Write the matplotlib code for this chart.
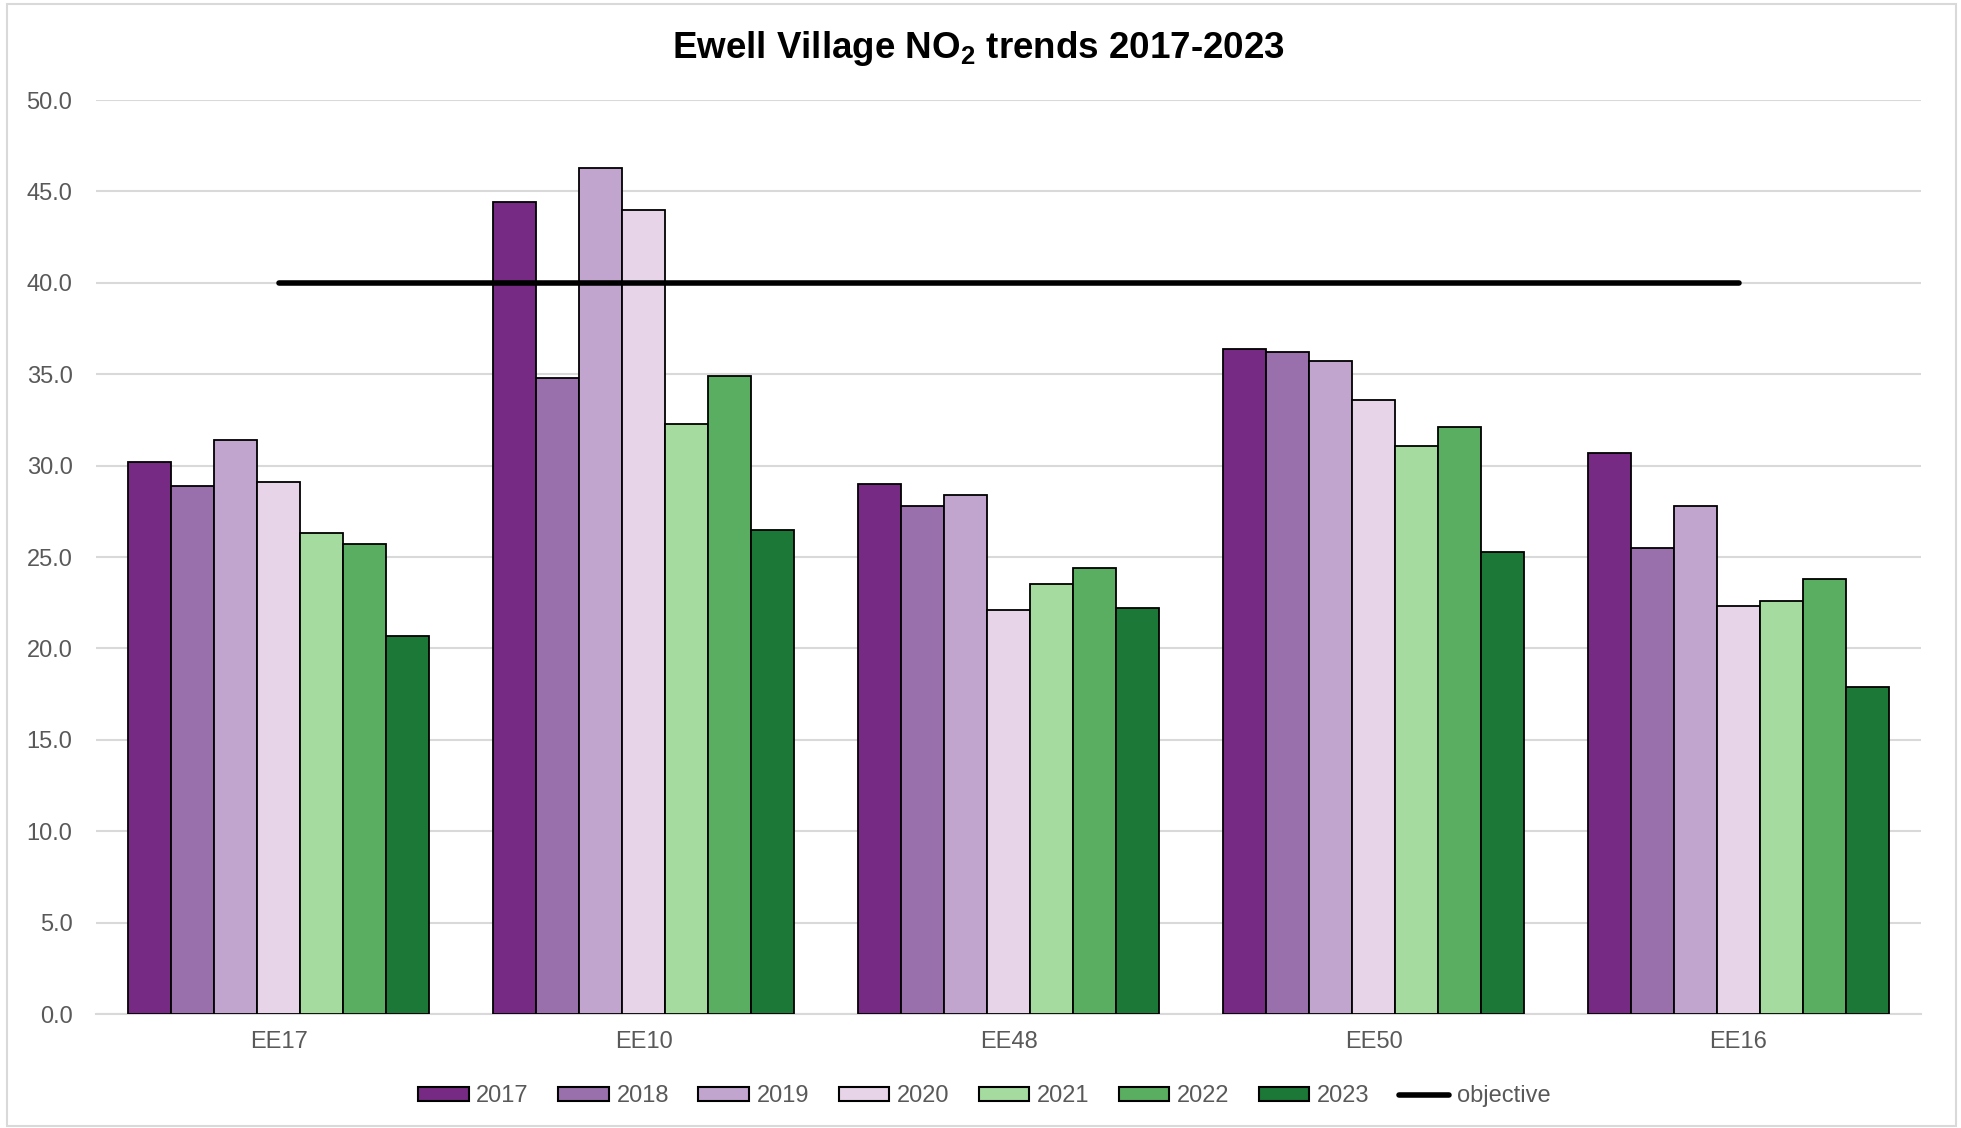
import matplotlib
matplotlib.use("Agg")
import matplotlib.pyplot as plt
import numpy as np
from matplotlib.patches import Patch, Rectangle
from matplotlib.lines import Line2D

plt.rcParams['font.family'] = ['Liberation Sans', 'DejaVu Sans']
plt.rcParams['mathtext.fontset'] = 'custom'
plt.rcParams['mathtext.rm'] = 'Liberation Sans'
plt.rcParams['mathtext.bf'] = 'Liberation Sans:bold'

sites = ["EE17", "EE10", "EE48", "EE50", "EE16"]
years = ["2017", "2018", "2019", "2020", "2021", "2022", "2023"]
v2017 = [30.2, 44.4, 29.0, 36.4, 30.7]
v2018 = [28.9, 34.8, 27.8, 36.2, 25.5]
v2019 = [31.4, 46.3, 28.4, 35.7, 27.8]
v2020 = [29.1, 44.0, 22.1, 33.6, 22.3]
v2021 = [26.3, 32.3, 23.5, 31.1, 22.6]
v2022 = [25.7, 34.9, 24.4, 32.1, 23.8]
v2023 = [20.7, 26.5, 22.2, 25.3, 17.9]
objective = [40, 40, 40, 40, 40]
yticks = [0, 5, 10, 15, 20, 25, 30, 35, 40, 45, 50]

series = [v2017, v2018, v2019, v2020, v2021, v2022, v2023]
colors = ["#762A83", "#9970AB", "#C2A5CF", "#E7D4E8", "#A6DBA0", "#5AAE61", "#1B7837"]

fig = plt.figure(figsize=(19.61, 11.28), dpi=100)
ax = fig.add_axes([0.049, 0.101, 0.9306, 0.8103])

x = np.arange(len(sites))
w = 1 / 8.5
for i, (vals, c) in enumerate(zip(series, colors)):
    ax.bar(x + (i - 3) * w, vals, width=w, color=c, edgecolor='black', linewidth=1.3, zorder=3)

ax.plot(x, objective, color='black', linewidth=4, solid_capstyle='round', zorder=4)

ax.set_xlim(-0.5, len(sites) - 0.5)
ax.set_ylim(0, 50)
ax.set_yticks(yticks)
ax.set_yticklabels([f"{t:.1f}" for t in yticks])
ax.set_xticks(x)
ax.set_xticklabels(sites)
ax.tick_params(axis='both', length=0, labelsize=17, labelcolor='#595959')
ax.tick_params(axis='y', pad=17)
ax.tick_params(axis='x', pad=12)
ax.grid(axis='y', color='#d9d9d9', linewidth=1.5, zorder=0)
for s in ['top', 'right', 'left']:
    ax.spines[s].set_visible(False)
ax.spines['bottom'].set_color('#d9d9d9')
ax.spines['bottom'].set_linewidth(1.5)

fig.text(0.499, 0.957, r"Ewell Village NO$_\mathbf{2}$ trends 2017-2023", ha='center', va='center',
         fontsize=26.5, fontweight='bold', color='black')

handles = [Patch(facecolor=c, edgecolor='black', linewidth=1.5) for c in colors]
handles.append(Line2D([0], [0], color='black', linewidth=4, solid_capstyle='round'))
labels = years + ["objective"]
leg = fig.legend(handles, labels, loc='center', bbox_to_anchor=(0.502, 0.028), ncol=8, frameon=False,
                 fontsize=17, handlelength=2.14, handleheight=0.5, handletextpad=0.32, columnspacing=1.25)
for t in leg.get_texts():
    t.set_color('#595959')

fig.patches.append(Rectangle((0.0036, 0.002), 0.9937, 0.9945, transform=fig.transFigure,
                             fill=False, edgecolor='#d9d9d9', linewidth=1.5))

fig.savefig("out.png", dpi=100)
